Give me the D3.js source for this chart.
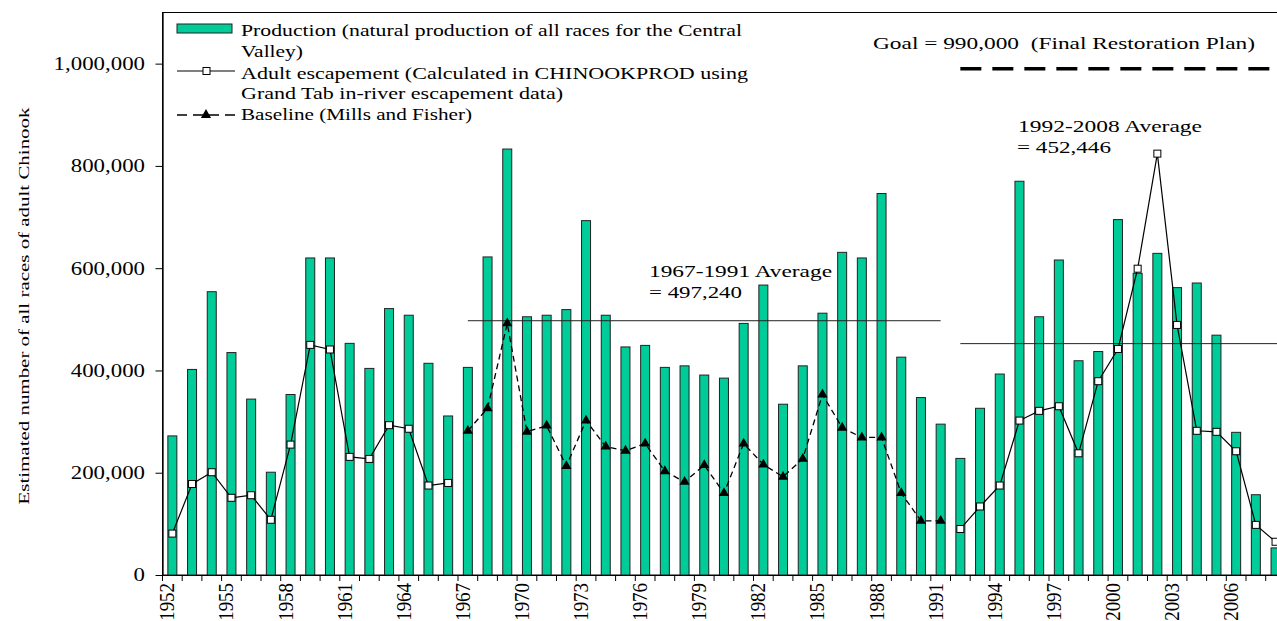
<!DOCTYPE html>
<html lang="en">
<head>
    <meta charset="UTF-8">
    <title>Central Valley Chinook production</title>
    <style>
        body {
            margin: 0;
            background: #fff;
            font-family: 'Liberation Serif', 'Times New Roman', serif;
        }
        svg text {
            fill: #000;
        }
    </style>
</head>
<body>
    <div id="chart"></div>

    <script src="https://cdnjs.cloudflare.com/ajax/libs/d3/7.8.5/d3.min.js"></script>
    <script>
        // years on the x axis
        const years = ["1952","1953","1954","1955","1956","1957","1958","1959","1960","1961",
            "1962","1963","1964","1965","1966","1967","1968","1969","1970","1971",
            "1972","1973","1974","1975","1976","1977","1978","1979","1980","1981",
            "1982","1983","1984","1985","1986","1987","1988","1989","1990","1991",
            "1992","1993","1994","1995","1996","1997","1998","1999","2000","2001",
            "2002","2003","2004","2005","2006","2007","2008"];

        // natural production of all races (bars)
        const production = [272000, 402000, 554000, 435000, 344000, 201000, 353000, 620000, 620000, 453000,
            404000, 521000, 508000, 414000, 311000, 406000, 622000, 833000, 505000, 508000,
            519000, 693000, 508000, 446000, 449000, 406000, 409000, 391000, 385000, 492000,
            567000, 334000, 409000, 512000, 631000, 620000, 746000, 426000, 347000, 295000,
            228000, 326000, 393000, 770000, 505000, 616000, 419000, 437000, 695000, 590000,
            629000, 562000, 571000, 469000, 279000, 157000, 53000];

        // adult escapement (squares), no values 1967-1991
        const escapement = [81000, 178000, 201000, 151000, 156000, 108000, 255000, 450000, 441000, 231000,
            227000, 293000, 286000, 175000, 180000, null, null, null, null, null,
            null, null, null, null, null, null, null, null, null, null,
            null, null, null, null, null, null, null, null, null, null,
            90000, 134000, 175000, 302000, 321000, 330000, 238000, 379000, 442000, 599000,
            824000, 489000, 282000, 280000, 242000, 98000, 65000];

        // baseline, Mills and Fisher (triangles), 1967-1991 only
        const baseline = [null, null, null, null, null, null, null, null, null, null,
            null, null, null, null, null, 282000, 326000, 492000, 280000, 292000,
            213000, 302000, 251000, 243000, 257000, 203000, 182000, 215000, 160000, 257000,
            216000, 192000, 227000, 353000, 288000, 269000, 269000, 160000, 106000, 106000,
            null, null, null, null, null, null, null, null, null, null,
            null, null, null, null, null, null, null];

        const yTicks = [0, 200000, 400000, 600000, 800000, 1000000];
        const xTickLabels = ["1952","1955","1958","1961","1964","1967","1970","1973","1976","1979",
            "1982","1985","1988","1991","1994","1997","2000","2003","2006"];

        const avgEarly = 497240;
        const avgEarlySpan = ["1967", "1991"];
        const avgLate = 452446;
        const avgLateSpan = ["1992", "2008"];
        const goal = 990000;
        const goalSpan = ["1992", "2008"];

        const W = 1277, H = 621;
        const plotLeft = 162.5, plotBottom = 575, plotTop = 12.5;
        const step = 19.7;
        const plotRight = plotLeft + years.length * step;

        const svg = d3.select("#chart").append("svg")
            .attr("width", W)
            .attr("height", H);

        const x = d3.scaleBand()
            .domain(years)
            .range([plotLeft, plotRight]);

        const y = d3.scaleLinear()
            .domain([0, 1100000])
            .range([plotBottom, plotTop]);

        const bw = x.bandwidth();
        const cx = yr => x(yr) + bw / 2;
        const barW = 9;

        // frame
        svg.append("rect")
            .attr("x", plotLeft)
            .attr("y", plotTop)
            .attr("width", plotRight - plotLeft)
            .attr("height", plotBottom - plotTop)
            .attr("fill", "none")
            .attr("stroke", "#000")
            .attr("stroke-width", 1);

        // bars
        svg.append("g")
            .selectAll("rect")
            .data(years)
            .enter()
            .append("rect")
            .attr("x", (d) => cx(d) - barW / 2)
            .attr("y", (d, i) => y(production[i]))
            .attr("width", barW)
            .attr("height", (d, i) => plotBottom - y(production[i]))
            .attr("fill", "#00cc99")
            .attr("stroke", "#222")
            .attr("stroke-width", 1);

        // average lines
        svg.append("line")
            .attr("x1", cx(avgEarlySpan[0]))
            .attr("x2", cx(avgEarlySpan[1]))
            .attr("y1", y(avgEarly))
            .attr("y2", y(avgEarly))
            .attr("stroke", "#222")
            .attr("stroke-width", 1);

        svg.append("line")
            .attr("x1", cx(avgLateSpan[0]))
            .attr("x2", W)
            .attr("y1", y(avgLate))
            .attr("y2", y(avgLate))
            .attr("stroke", "#222")
            .attr("stroke-width", 1);

        // goal line
        svg.append("line")
            .attr("x1", cx(goalSpan[0]))
            .attr("x2", cx(goalSpan[1]))
            .attr("y1", y(goal))
            .attr("y2", y(goal))
            .attr("stroke", "#000")
            .attr("stroke-width", 3.3)
            .attr("stroke-dasharray", "21,11");

        // escapement line
        const line = d3.line()
            .defined(d => d[1] !== null)
            .x(d => cx(d[0]))
            .y(d => y(d[1]));

        const escPts = years.map((yr, i) => [yr, escapement[i]]);
        const basePts = years.map((yr, i) => [yr, baseline[i]]);

        svg.append("path")
            .attr("d", line(escPts))
            .attr("fill", "none")
            .attr("stroke", "#000")
            .attr("stroke-width", 1.2);

        svg.append("path")
            .attr("d", line(basePts))
            .attr("fill", "none")
            .attr("stroke", "#000")
            .attr("stroke-width", 1.3)
            .attr("stroke-dasharray", "6,4");

        // triangles
        const tri = d3.symbol().type(d3.symbolTriangle).size(45);
        svg.append("g")
            .selectAll("path")
            .data(basePts.filter(d => d[1] !== null))
            .enter()
            .append("path")
            .attr("d", tri)
            .attr("transform", d => `translate(${cx(d[0])},${y(d[1])})`)
            .attr("fill", "#000");

        // squares
        svg.append("g")
            .selectAll("rect")
            .data(escPts.filter(d => d[1] !== null))
            .enter()
            .append("rect")
            .attr("x", d => cx(d[0]) - 3.5)
            .attr("y", d => y(d[1]) - 3.5)
            .attr("width", 7)
            .attr("height", 7)
            .attr("fill", "#fff")
            .attr("stroke", "#000")
            .attr("stroke-width", 1);

        // y axis
        const yAxis = svg.append("g")
            .attr("transform", `translate(${plotLeft},0)`)
            .call(d3.axisLeft(y).tickValues(yTicks).tickFormat(d3.format(",")).tickSize(7).tickSizeOuter(0));
        yAxis.select(".domain").attr("stroke-width", 1.3);
        yAxis.selectAll("text")
            .attr("font-family", "Liberation Serif")
            .attr("font-size", 18)
            .attr("x", -17.5 / 1.27)
            .attr("dy", "0.33em")
            .attr("transform", "scale(1.27,1)");

        // x axis: ticks sit on band edges, labels every third year
        const xAxis = svg.append("g")
            .attr("transform", `translate(0,${plotBottom})`)
            .call(d3.axisBottom(x).tickValues(years).tickSize(6).tickSizeOuter(0)
                .tickFormat(d => xTickLabels.includes(d) ? d : ""));
        xAxis.selectAll(".tick line").attr("x1", -bw / 2).attr("x2", -bw / 2);
        xAxis.selectAll(".tick text")
            .attr("font-family", "Liberation Serif")
            .attr("font-size", 18)
            .attr("text-anchor", "end")
            .attr("transform", "rotate(-90) scale(1.05,1.15)")
            .attr("x", -8 / 1.05)
            .attr("y", 2 / 1.15)
            .attr("dy", 0);

        // text helper (widths taken from the original figure)
        function label(str, tx, ty, size, len) {
            svg.append("text")
                .attr("x", tx)
                .attr("y", ty)
                .attr("font-size", size)
                .attr("textLength", len)
                .attr("lengthAdjust", "spacingAndGlyphs")
                .style("white-space", "pre")
                .text(str);
        }

        // y axis title
        svg.append("text")
            .attr("transform", "translate(29,306) rotate(-90)")
            .attr("text-anchor", "middle")
            .attr("font-size", 15)
            .attr("textLength", 397)
            .attr("lengthAdjust", "spacingAndGlyphs")
            .text("Estimated number of all races of adult Chinook");

        // legend
        svg.append("rect")
            .attr("x", 177).attr("y", 24)
            .attr("width", 55).attr("height", 9)
            .attr("fill", "#00cc99")
            .attr("stroke", "#222");
        svg.append("line")
            .attr("x1", 177).attr("x2", 235)
            .attr("y1", 71).attr("y2", 71)
            .attr("stroke", "#000").attr("stroke-width", 1.2);
        svg.append("rect")
            .attr("x", 203).attr("y", 67.5)
            .attr("width", 7).attr("height", 7)
            .attr("fill", "#fff").attr("stroke", "#000");
        svg.append("line")
            .attr("x1", 177).attr("x2", 235)
            .attr("y1", 115).attr("y2", 115)
            .attr("stroke", "#000").attr("stroke-width", 1.6)
            .attr("stroke-dasharray", "10,6");
        svg.append("path")
            .attr("d", tri)
            .attr("transform", "translate(206,115)")
            .attr("fill", "#000");

        label("Production (natural production of all races for the Central", 241, 36, 17, 501);
        label("Valley)", 241, 57, 17, 62);
        label("Adult escapement (Calculated in CHINOOKPROD using", 241, 78.5, 17, 507);
        label("Grand Tab in-river escapement data)", 241, 99, 17, 322);
        label("Baseline (Mills and Fisher)", 241, 119.5, 17, 231);

        // annotations
        label("Goal = 990,000\u00a0 (Final Restoration Plan)", 873, 48.5, 17, 382);
        label("1967-1991 Average", 649, 277, 17, 183);
        label("= 497,240", 649, 298, 17, 93);
        label("1992-2008 Average", 1018, 132, 17, 184);
        label("= 452,446", 1017, 153, 17, 94);
    </script>
</body>
</html>
